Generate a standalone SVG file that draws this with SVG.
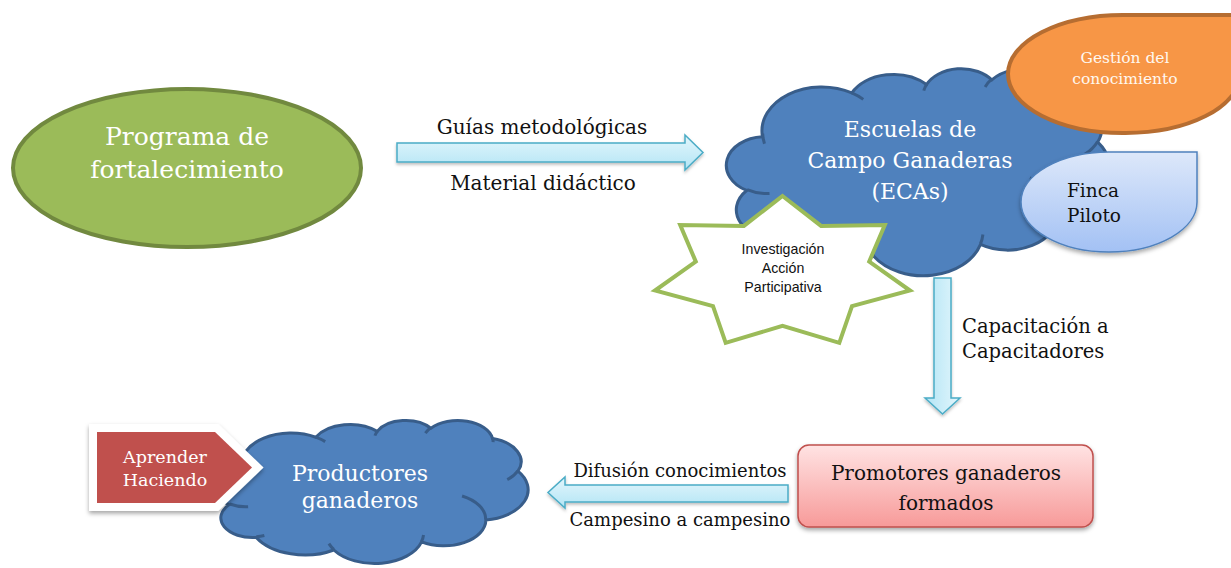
<svg xmlns="http://www.w3.org/2000/svg" width="1231" height="568" viewBox="0 0 1231 568">
<style>
.cloud{fill:#4F81BD;stroke:#385D8A;stroke-width:3}
.cloudin{fill:none;stroke:#385D8A;stroke-width:3}
.serif{font-family:"DejaVu Serif","Liberation Serif",serif}
.sans{font-family:"Liberation Sans","Open Sans",sans-serif}
.w{fill:#FFFFFF}
.k{fill:#111111}
.arrow{fill:url(#gArrow);stroke:#4BACC6;stroke-width:1.5}
</style>
<defs>
<linearGradient id="gArrow" x1="0" y1="0" x2="0" y2="1">
<stop offset="0" stop-color="#E3F6FC"/>
<stop offset="1" stop-color="#B3E5F5"/>
</linearGradient>
<linearGradient id="gArrowV" x1="0" y1="0" x2="1" y2="0">
<stop offset="0" stop-color="#B3E5F5"/>
<stop offset="1" stop-color="#E3F6FC"/>
</linearGradient>
<linearGradient id="gFinca" x1="0" y1="0" x2="0" y2="1">
<stop offset="0" stop-color="#DDE8FA"/>
<stop offset="1" stop-color="#A3C1F4"/>
</linearGradient>
<linearGradient id="gProm" x1="0" y1="0" x2="0" y2="1">
<stop offset="0" stop-color="#FFE3E3"/>
<stop offset="1" stop-color="#F79A99"/>
</linearGradient>
<filter id="sh" x="-20%" y="-20%" width="140%" height="150%">
<feDropShadow dx="0" dy="2.5" stdDeviation="2" flood-color="#000" flood-opacity="0.35"/>
</filter>
<filter id="shs" x="-10%" y="-30%" width="120%" height="170%">
<feDropShadow dx="0" dy="2" stdDeviation="1.5" flood-color="#000" flood-opacity="0.25"/>
</filter>
</defs>

<g id="programa">
<ellipse cx="187" cy="168" rx="174" ry="79" fill="#9BBB59" stroke="#71893F" stroke-width="4"/>
<text class="serif w" font-size="25" text-anchor="middle"><tspan x="187" y="145">Programa de</tspan><tspan x="187" y="178">fortalecimiento</tspan></text>
</g>

<g id="ecas">
<g transform="translate(728,68) scale(0.0088426,0.0047917)">
<path class="cloud" vector-effect="non-scaling-stroke" d="M3900 14370 A6753 9190 0 0 1 14006 5203 A5333 7267 0 0 1 22457 3434 A4365 5945 0 0 1 29834 2483 A4857 6595 0 0 1 38320 5577 A5333 7273 0 0 1 41820 15461 A6775 9220 0 0 1 37407 30206 A5785 7867 0 0 1 28559 36816 A6752 9215 0 0 1 16484 39270 A7720 10543 0 0 1 5807 35474 A4360 5918 0 0 1 2114 25555 A4345 5945 0 0 1 3900 14370 Z"/>
<path class="cloudin" vector-effect="non-scaling-stroke" d="M4693 26177 A4345 5945 0 0 1 2159 25379 M6928 34899 A4360 5918 0 0 1 5820 35281 M16478 39090 A6752 9215 0 0 1 15809 37347 M28827 34751 A6752 9215 0 0 1 28561 36660 M34129 22954 A5785 7867 0 0 1 37381 30090 M41798 15354 A5333 7273 0 0 1 40350 18030 M38324 5426 A4857 6595 0 0 1 38400 6690 M29078 3952 A4857 6595 0 0 1 29820 2340 M22141 4720 A4365 5945 0 0 1 22500 3331 M14000 5192 A6753 9190 0 0 1 15301 6542 M4127 15789 A6753 9190 0 0 1 3917 13672"/>
</g>
<text class="serif w" font-size="22" text-anchor="middle"><tspan x="910" y="137">Escuelas de</tspan><tspan x="910" y="168">Campo Ganaderas</tspan><tspan x="910" y="199">(ECAs)</tspan></text>
</g>

<g id="gestion">
<path d="M1008 74 A115 59 0 0 1 1123 15 L1240 15 L1240 74 A115 59 0 0 1 1123 133 A115 59 0 0 1 1008 74 Z" fill="#F79646" stroke="#B66D31" stroke-width="4"/>
<text class="serif" fill="#FFF8F0" font-size="15.5" text-anchor="middle"><tspan x="1125" y="63">Gestión del</tspan><tspan x="1125" y="84">conocimiento</tspan></text>
</g>

<g id="finca">
<path d="M1021 202 A88 50 0 0 1 1109 152 L1197 152 L1197 202 A88 50 0 0 1 1109 252 A88 50 0 0 1 1021 202 Z" fill="url(#gFinca)" stroke="#4F81BD" stroke-width="1.5" filter="url(#sh)"/>
<text class="serif k" font-size="18.5"><tspan x="1067" y="197">Finca</tspan><tspan x="1067" y="222">Piloto</tspan></text>
</g>

<g id="investigacion">
<polygon points="782.5,196 821.1,225.9 884.8,225.1 869.2,261.6 910,290.5 852,306.1 839.3,342.9 782.5,325.9 725.7,342.9 713,306.1 655,290.5 695.8,261.6 680.2,225.1 743.9,225.9" fill="#FFFFFF" stroke="#9BBB59" stroke-width="4" stroke-linejoin="miter"/>
<text class="sans k" font-size="14.2" text-anchor="middle"><tspan x="783" y="254">Investigación</tspan><tspan x="783" y="273">Acción</tspan><tspan x="783" y="292">Participativa</tspan></text>
</g>

<g id="promotores">
<rect x="798" y="445" width="295" height="82" rx="11" fill="url(#gProm)" stroke="#C0504D" stroke-width="1.5" filter="url(#sh)"/>
<text class="serif k" font-size="20" text-anchor="middle"><tspan x="946" y="480">Promotores ganaderos</tspan><tspan x="946" y="510">formados</tspan></text>
</g>

<g id="productores">
<g transform="translate(214,420) scale(0.0072685,0.0033102)">
<path class="cloud" vector-effect="non-scaling-stroke" d="M3900 14370 A6753 9190 0 0 1 14006 5203 A5333 7267 0 0 1 22457 3434 A4365 5945 0 0 1 29834 2483 A4857 6595 0 0 1 38320 5577 A5333 7273 0 0 1 41820 15461 A6775 9220 0 0 1 37407 30206 A5785 7867 0 0 1 28559 36816 A6752 9215 0 0 1 16484 39270 A7720 10543 0 0 1 5807 35474 A4360 5918 0 0 1 2114 25555 A4345 5945 0 0 1 3900 14370 Z"/>
<path class="cloudin" vector-effect="non-scaling-stroke" d="M4693 26177 A4345 5945 0 0 1 2159 25379 M6928 34899 A4360 5918 0 0 1 5820 35281 M16478 39090 A6752 9215 0 0 1 15809 37347 M28827 34751 A6752 9215 0 0 1 28561 36660 M34129 22954 A5785 7867 0 0 1 37381 30090 M41798 15354 A5333 7273 0 0 1 40350 18030 M38324 5426 A4857 6595 0 0 1 38400 6690 M29078 3952 A4857 6595 0 0 1 29820 2340 M22141 4720 A4365 5945 0 0 1 22500 3331 M14000 5192 A6753 9190 0 0 1 15301 6542 M4127 15789 A6753 9190 0 0 1 3917 13672"/>
</g>
<text class="serif w" font-size="22" text-anchor="middle"><tspan x="360" y="481">Productores</tspan><tspan x="360" y="508">ganaderos</tspan></text>
</g>

<g id="aprender">
<polygon points="97,432 215,432 252,467.5 215,503 97,503" fill="#FFFFFF" stroke="#FFFFFF" stroke-width="16" stroke-linejoin="miter" filter="url(#sh)"/>
<polygon points="97,432 215,432 252,467.5 215,503 97,503" fill="#C0504D"/>
<text class="serif w" font-size="17.5" text-anchor="middle"><tspan x="165" y="463">Aprender</tspan><tspan x="165" y="486">Haciendo</tspan></text>
</g>

<g id="connectors">
<polygon class="arrow" filter="url(#shs)" points="397,143 685,143 685,135 703,152.5 685,170 685,162 397,162"/>
<text class="serif k" font-size="20" text-anchor="middle" x="542" y="134">Guías metodológicas</text>
<text class="serif k" font-size="20" text-anchor="middle" x="543" y="190">Material didáctico</text>
<polygon points="934,278 951,278 951,398 960,398 942.5,414 925,398 934,398" fill="url(#gArrowV)" stroke="#4BACC6" stroke-width="1.5" filter="url(#shs)"/>
<text class="serif k" font-size="19.5"><tspan x="962" y="333">Capacitación a</tspan><tspan x="962" y="358">Capacitadores</tspan></text>
<polygon class="arrow" filter="url(#shs)" points="788,485 565,485 565,477 548,492.5 565,508 565,502 788,502"/>
<text class="serif k" font-size="18" text-anchor="middle" x="680" y="477">Difusión conocimientos</text>
<text class="serif k" font-size="18" text-anchor="middle" x="680" y="526">Campesino a campesino</text>
</g>
</svg>
